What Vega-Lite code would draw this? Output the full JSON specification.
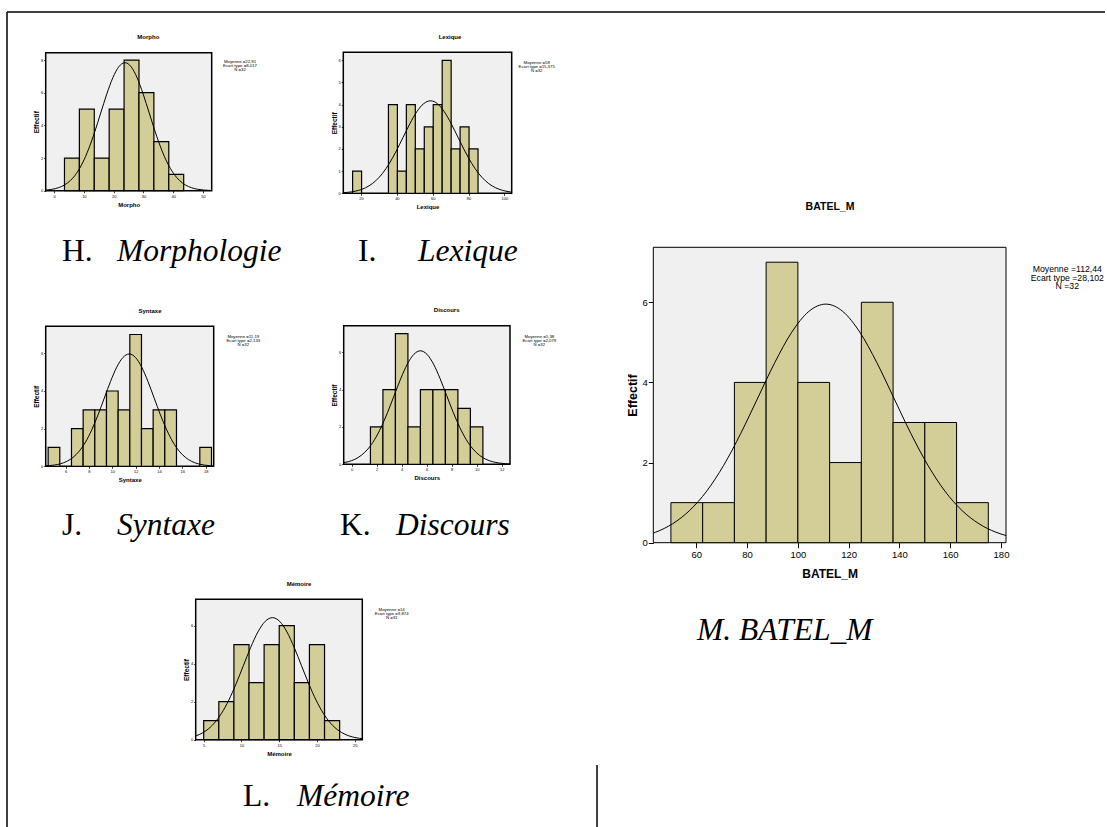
{
"$schema": "https://vega.github.io/schema/vega-lite/v6.json",
"width": 1107, "height": 827, "autosize": "none", "padding": 0,
"background": "white",
"config": {
 "font": "Liberation Sans",
 "view": {"stroke": null},
 "axis": {"grid": false, "domain": false, "tickColor": "black", "tickWidth": 0.8, "labelColor": "black", "titleColor": "black", "labelFont": "Liberation Sans", "titleFont": "Liberation Sans", "titleFontWeight": "bold", "labelFlush": false, "labelOverlap": false},
 "axisX": {"labelFontSize": 4, "titleFontSize": 6, "tickSize": 2, "labelPadding": 1.5, "titlePadding": 3},
 "axisY": {"labelFontSize": 4, "titleFontSize": 6.5, "tickSize": 2, "labelPadding": 1, "titlePadding": 1}
},
"datasets": {
 "morpho_bars": [{"bin_start":3.5,"bin_end":8.5,"count":2},{"bin_start":8.5,"bin_end":13.5,"count":5},{"bin_start":13.5,"bin_end":18.5,"count":2},{"bin_start":18.5,"bin_end":23.5,"count":5},{"bin_start":23.5,"bin_end":28.5,"count":8},{"bin_start":28.5,"bin_end":33.5,"count":6},{"bin_start":33.5,"bin_end":38.5,"count":3},{"bin_start":38.5,"bin_end":43.5,"count":1}],
 "morpho_curve": [{"x":-2.8,"y":0.038},{"x":-0.62,"y":0.087},{"x":1.415,"y":0.179},{"x":3.45,"y":0.344},{"x":5.485,"y":0.624},{"x":7.52,"y":1.061},{"x":9.555,"y":1.696},{"x":11.59,"y":2.545},{"x":13.625,"y":3.589},{"x":15.66,"y":4.755},{"x":17.695,"y":5.918},{"x":19.73,"y":6.919},{"x":21.765,"y":7.599},{"x":23.8,"y":7.84},{"x":25.835,"y":7.599},{"x":27.87,"y":6.919},{"x":29.905,"y":5.918},{"x":31.94,"y":4.755},{"x":33.975,"y":3.589},{"x":36.01,"y":2.545},{"x":38.045,"y":1.696},{"x":40.08,"y":1.061},{"x":42.115,"y":0.624},{"x":44.15,"y":0.344},{"x":46.185,"y":0.179},{"x":48.22,"y":0.087},{"x":50.255,"y":0.04},{"x":52.29,"y":0.017},{"x":52.9,"y":0.013}],
 "lexique_bars": [{"bin_start":15.3,"bin_end":20.3,"count":1},{"bin_start":35.3,"bin_end":40.3,"count":4},{"bin_start":40.3,"bin_end":45.3,"count":1},{"bin_start":45.3,"bin_end":50.3,"count":4},{"bin_start":50.3,"bin_end":55.3,"count":2},{"bin_start":55.3,"bin_end":60.3,"count":3},{"bin_start":60.3,"bin_end":65.3,"count":4},{"bin_start":65.3,"bin_end":70.3,"count":6},{"bin_start":70.3,"bin_end":75.3,"count":2},{"bin_start":75.3,"bin_end":80.3,"count":3},{"bin_start":80.3,"bin_end":85.3,"count":2}],
 "lexique_curve": [{"x":10.1,"y":0.026},{"x":12.9,"y":0.046},{"x":16.725,"y":0.095},{"x":20.55,"y":0.183},{"x":24.375,"y":0.332},{"x":28.2,"y":0.565},{"x":32.025,"y":0.902},{"x":35.85,"y":1.354},{"x":39.675,"y":1.91},{"x":43.5,"y":2.53},{"x":47.325,"y":3.149},{"x":51.15,"y":3.682},{"x":54.975,"y":4.044},{"x":58.8,"y":4.172},{"x":62.625,"y":4.044},{"x":66.45,"y":3.682},{"x":70.275,"y":3.149},{"x":74.1,"y":2.53},{"x":77.925,"y":1.91},{"x":81.75,"y":1.354},{"x":85.575,"y":0.902},{"x":89.4,"y":0.565},{"x":93.225,"y":0.332},{"x":97.05,"y":0.183},{"x":100.875,"y":0.095},{"x":104.1,"y":0.052}],
 "syntaxe_bars": [{"bin_start":4.5,"bin_end":5.5,"count":1},{"bin_start":6.5,"bin_end":7.5,"count":2},{"bin_start":7.5,"bin_end":8.5,"count":3},{"bin_start":8.5,"bin_end":9.5,"count":3},{"bin_start":9.5,"bin_end":10.5,"count":4},{"bin_start":10.5,"bin_end":11.5,"count":3},{"bin_start":11.5,"bin_end":12.5,"count":7},{"bin_start":12.5,"bin_end":13.5,"count":2},{"bin_start":13.5,"bin_end":14.5,"count":3},{"bin_start":14.5,"bin_end":15.5,"count":3},{"bin_start":17.5,"bin_end":18.5,"count":1}],
 "syntaxe_curve": [{"x":4.29,"y":0.022},{"x":4.495,"y":0.03},{"x":5.03,"y":0.066},{"x":5.565,"y":0.136},{"x":6.1,"y":0.262},{"x":6.635,"y":0.475},{"x":7.17,"y":0.807},{"x":7.705,"y":1.29},{"x":8.24,"y":1.937},{"x":8.775,"y":2.731},{"x":9.31,"y":3.619},{"x":9.845,"y":4.503},{"x":10.38,"y":5.265},{"x":10.915,"y":5.782},{"x":11.45,"y":5.966},{"x":11.985,"y":5.782},{"x":12.52,"y":5.265},{"x":13.055,"y":4.503},{"x":13.59,"y":3.619},{"x":14.125,"y":2.731},{"x":14.66,"y":1.937},{"x":15.195,"y":1.29},{"x":15.73,"y":0.807},{"x":16.265,"y":0.475},{"x":16.8,"y":0.262},{"x":17.335,"y":0.136},{"x":17.87,"y":0.066},{"x":18.405,"y":0.03},{"x":18.69,"y":0.02}],
 "discours_bars": [{"bin_start":1.5,"bin_end":2.5,"count":2},{"bin_start":2.5,"bin_end":3.5,"count":4},{"bin_start":3.5,"bin_end":4.5,"count":7},{"bin_start":4.5,"bin_end":5.5,"count":2},{"bin_start":5.5,"bin_end":6.5,"count":4},{"bin_start":6.5,"bin_end":7.5,"count":4},{"bin_start":7.5,"bin_end":8.5,"count":4},{"bin_start":8.5,"bin_end":9.5,"count":3},{"bin_start":9.5,"bin_end":10.5,"count":2}],
 "discours_curve": [{"x":-0.64,"y":0.085},{"x":-0.275,"y":0.139},{"x":0.25,"y":0.267},{"x":0.775,"y":0.484},{"x":1.3,"y":0.823},{"x":1.825,"y":1.315},{"x":2.35,"y":1.974},{"x":2.875,"y":2.783},{"x":3.4,"y":3.687},{"x":3.925,"y":4.589},{"x":4.45,"y":5.365},{"x":4.975,"y":5.892},{"x":5.5,"y":6.079},{"x":6.025,"y":5.892},{"x":6.55,"y":5.365},{"x":7.075,"y":4.589},{"x":7.6,"y":3.687},{"x":8.125,"y":2.783},{"x":8.65,"y":1.974},{"x":9.175,"y":1.315},{"x":9.7,"y":0.823},{"x":10.225,"y":0.484},{"x":10.75,"y":0.267},{"x":11.275,"y":0.139},{"x":11.8,"y":0.068},{"x":12.325,"y":0.031},{"x":12.67,"y":0.018}],
 "memoire_bars": [{"bin_start":5,"bin_end":7,"count":1},{"bin_start":7,"bin_end":9,"count":2},{"bin_start":9,"bin_end":11,"count":5},{"bin_start":11,"bin_end":13,"count":3},{"bin_start":13,"bin_end":15,"count":5},{"bin_start":15,"bin_end":17,"count":6},{"bin_start":17,"bin_end":19,"count":3},{"bin_start":19,"bin_end":21,"count":5},{"bin_start":21,"bin_end":23,"count":1}],
 "memoire_curve": [{"x":3.94,"y":0.197},{"x":4.475,"y":0.282},{"x":5.4375,"y":0.511},{"x":6.4,"y":0.87},{"x":7.3625,"y":1.39},{"x":8.325,"y":2.086},{"x":9.2875,"y":2.942},{"x":10.25,"y":3.897},{"x":11.2125,"y":4.85},{"x":12.175,"y":5.67},{"x":13.1375,"y":6.227},{"x":14.1,"y":6.425},{"x":15.0625,"y":6.227},{"x":16.025,"y":5.67},{"x":16.9875,"y":4.85},{"x":17.95,"y":3.897},{"x":18.9125,"y":2.942},{"x":19.875,"y":2.086},{"x":20.8375,"y":1.39},{"x":21.8,"y":0.87},{"x":22.7625,"y":0.511},{"x":23.725,"y":0.282},{"x":24.6875,"y":0.146},{"x":25.65,"y":0.071},{"x":26.0,"y":0.054}],
 "batel_bars": [{"bin_start":50,"bin_end":62.5,"count":1},{"bin_start":62.5,"bin_end":75,"count":1},{"bin_start":75,"bin_end":87.5,"count":4},{"bin_start":87.5,"bin_end":100,"count":7},{"bin_start":100,"bin_end":112.5,"count":4},{"bin_start":112.5,"bin_end":125,"count":2},{"bin_start":125,"bin_end":137.5,"count":6},{"bin_start":137.5,"bin_end":150,"count":3},{"bin_start":150,"bin_end":162.5,"count":3},{"bin_start":162.5,"bin_end":175,"count":1}],
 "batel_curve": [{"x":43.06,"y":0.239},{"x":44.0,"y":0.262},{"x":50.7,"y":0.474},{"x":57.4,"y":0.806},{"x":64.1,"y":1.288},{"x":70.8,"y":1.933},{"x":77.5,"y":2.726},{"x":84.2,"y":3.611},{"x":90.9,"y":4.494},{"x":97.6,"y":5.254},{"x":104.3,"y":5.771},{"x":111,"y":5.954},{"x":117.7,"y":5.771},{"x":124.4,"y":5.254},{"x":131.1,"y":4.494},{"x":137.8,"y":3.611},{"x":144.5,"y":2.726},{"x":151.2,"y":1.933},{"x":157.9,"y":1.288},{"x":164.6,"y":0.806},{"x":171.3,"y":0.474},{"x":178.0,"y":0.262},{"x":181.97,"y":0.179}]
},
"resolve": {"scale": {"x": "independent", "y": "independent"}, "axis": {"x": "independent", "y": "independent"}},
"layer": [
 {"layer": [
  {"data": {"values": [{}]}, "mark": {"type": "rect", "fill": "#F0F0F0", "stroke": "black", "strokeWidth": 1.5},
   "encoding": {"x": {"datum": -2.8}, "x2": {"datum": 52.9}, "y": {"datum": 0}, "y2": {"datum": 8.45}}},
  {"data": {"name": "morpho_bars"}, "mark": {"type": "rect", "fill": "#D3CE97", "stroke": "black", "strokeWidth": 1.2},
   "encoding": {"x": {"field": "bin_start", "type": "quantitative", "scale": {"domain": [-2.8, 52.9], "range": [45.7, 211.7], "nice": false, "zero": false}, "axis": {"orient": "bottom", "offset": -636.3, "title": "Morpho", "values": [0,10,20,30,40,50], "format": "d"}},
    "x2": {"field": "bin_end"},
    "y": {"field": "count", "type": "quantitative", "scale": {"domain": [0, 8.45], "range": [190.7, 52.7], "nice": false}, "axis": {"orient": "left", "offset": -45.7, "title": "Effectif", "values": [0,2,4,6,8], "format": "d"}},
    "y2": {"datum": 0}}},
  {"data": {"name": "morpho_curve"}, "mark": {"type": "line", "color": "black", "strokeWidth": 1, "interpolate": "monotone"},
   "encoding": {"x": {"field": "x", "type": "quantitative"}, "y": {"field": "y", "type": "quantitative"}}},
  {"data": {"values": [{}]}, "mark": {"type": "text", "text": "Morpho", "fontSize": 6, "fontWeight": "bold", "align": "center", "baseline": "middle", "color": "black"},
   "encoding": {"x": {"datum": 31.63}, "y": {"datum": 9.41}}},
  {"data": {"values": [{}]}, "mark": {"type": "text", "text": ["Moyenne =22,91", "Ecart type =8,017", "N =32"], "fontSize": 4.3, "lineHeight": 4.2, "align": "center", "baseline": "top", "color": "black"},
   "encoding": {"x": {"datum": 62.4}, "y": {"datum": 8.015}}},
  {"data": {"values": [{}]}, "mark": {"type": "text", "text": "H.", "font": "Liberation Serif", "fontSize": 31.5, "align": "left", "baseline": "alphabetic", "color": "black"},
   "encoding": {"x": {"datum": 2.67}, "y": {"datum": -4.305}}},
  {"data": {"values": [{}]}, "mark": {"type": "text", "text": "Morphologie", "font": "Liberation Serif", "fontStyle": "italic", "fontSize": 31.5, "align": "left", "baseline": "alphabetic", "color": "black"},
   "encoding": {"x": {"datum": 21.12}, "y": {"datum": -4.305}}},
  {"data": {"values": [{}]}, "mark": {"type": "rule", "color": "black", "strokeWidth": 1.5},
   "encoding": {"x": {"datum": -15.785}, "x2": {"datum": 352.63}, "y": {"datum": 10.942}}},
  {"data": {"values": [{}]}, "mark": {"type": "rule", "color": "black", "strokeWidth": 1.5},
   "encoding": {"x": {"datum": -15.785}, "y": {"datum": 10.942}, "y2": {"datum": -38.962}}}
 ]},
 {"layer": [
  {"data": {"values": [{}]}, "mark": {"type": "rect", "fill": "#F0F0F0", "stroke": "black", "strokeWidth": 1.5},
   "encoding": {"x": {"datum": 10.1}, "x2": {"datum": 104.1}, "y": {"datum": 0}, "y2": {"datum": 6.36}}},
  {"data": {"name": "lexique_bars"}, "mark": {"type": "rect", "fill": "#D3CE97", "stroke": "black", "strokeWidth": 1.2},
   "encoding": {"x": {"field": "bin_start", "type": "quantitative", "scale": {"domain": [10.1, 104.1], "range": [343.3, 511.7], "nice": false, "zero": false}, "axis": {"orient": "bottom", "offset": -633.7, "title": "Lexique", "values": [20,40,60,80,100], "format": "d"}},
    "x2": {"field": "bin_end"},
    "y": {"field": "count", "type": "quantitative", "scale": {"domain": [0, 6.36], "range": [193.3, 52.3], "nice": false}, "axis": {"orient": "left", "offset": -343.3, "title": "Effectif", "values": [0,1,2,3,4,5,6], "format": "d"}},
    "y2": {"datum": 0}}},
  {"data": {"name": "lexique_curve"}, "mark": {"type": "line", "color": "black", "strokeWidth": 1, "interpolate": "monotone"},
   "encoding": {"x": {"field": "x", "type": "quantitative"}, "y": {"field": "y", "type": "quantitative"}}},
  {"data": {"values": [{}]}, "mark": {"type": "text", "text": "Lexique", "fontSize": 6, "fontWeight": "bold", "align": "center", "baseline": "middle", "color": "black"},
   "encoding": {"x": {"datum": 69.66}, "y": {"datum": 7.05}}},
  {"data": {"values": [{}]}, "mark": {"type": "text", "text": ["Moyenne =58", "Ecart type =15,375", "N =32"], "fontSize": 4.3, "lineHeight": 4.2, "align": "center", "baseline": "top", "color": "black"},
   "encoding": {"x": {"datum": 118.05}, "y": {"datum": 5.967}}},
  {"data": {"values": [{}]}, "mark": {"type": "text", "text": "I.", "font": "Liberation Serif", "fontSize": 31.5, "align": "left", "baseline": "alphabetic", "color": "black"},
   "encoding": {"x": {"datum": 18.31}, "y": {"datum": -3.054}}},
  {"data": {"values": [{}]}, "mark": {"type": "text", "text": "Lexique", "font": "Liberation Serif", "fontStyle": "italic", "fontSize": 31.5, "align": "left", "baseline": "alphabetic", "color": "black"},
   "encoding": {"x": {"datum": 51.8}, "y": {"datum": -3.054}}}
 ]},
 {"layer": [
  {"data": {"values": [{}]}, "mark": {"type": "rect", "fill": "#F0F0F0", "stroke": "black", "strokeWidth": 1.5},
   "encoding": {"x": {"datum": 4.29}, "x2": {"datum": 18.69}, "y": {"datum": 0}, "y2": {"datum": 7.435}}},
  {"data": {"name": "syntaxe_bars"}, "mark": {"type": "rect", "fill": "#D3CE97", "stroke": "black", "strokeWidth": 1.2},
   "encoding": {"x": {"field": "bin_start", "type": "quantitative", "scale": {"domain": [4.29, 18.69], "range": [45.7, 213.7], "nice": false, "zero": false}, "axis": {"orient": "bottom", "offset": -360.7, "title": "Syntaxe", "values": [6,8,10,12,14,16,18], "format": "d"}},
    "x2": {"field": "bin_end"},
    "y": {"field": "count", "type": "quantitative", "scale": {"domain": [0, 7.435], "range": [466.3, 326.3], "nice": false}, "axis": {"orient": "left", "offset": -45.7, "title": "Effectif", "values": [0,2,4,6], "format": "d"}},
    "y2": {"datum": 0}}},
  {"data": {"name": "syntaxe_curve"}, "mark": {"type": "line", "color": "black", "strokeWidth": 1, "interpolate": "monotone"},
   "encoding": {"x": {"field": "x", "type": "quantitative"}, "y": {"field": "y", "type": "quantitative"}}},
  {"data": {"values": [{}]}, "mark": {"type": "text", "text": "Syntaxe", "fontSize": 6, "fontWeight": "bold", "align": "center", "baseline": "middle", "color": "black"},
   "encoding": {"x": {"datum": 13.23}, "y": {"datum": 8.263}}},
  {"data": {"values": [{}]}, "mark": {"type": "text", "text": ["Moyenne =11,19", "Ecart type =2,133", "N =32"], "fontSize": 4.3, "lineHeight": 4.2, "align": "center", "baseline": "top", "color": "black"},
   "encoding": {"x": {"datum": 21.227}, "y": {"datum": 6.973}}},
  {"data": {"values": [{}]}, "mark": {"type": "text", "text": "J.", "font": "Liberation Serif", "fontSize": 31.5, "align": "left", "baseline": "alphabetic", "color": "black"},
   "encoding": {"x": {"datum": 5.687}, "y": {"datum": -3.648}}},
  {"data": {"values": [{}]}, "mark": {"type": "text", "text": "Syntaxe", "font": "Liberation Serif", "fontStyle": "italic", "fontSize": 31.5, "align": "left", "baseline": "alphabetic", "color": "black"},
   "encoding": {"x": {"datum": 10.401}, "y": {"datum": -3.648}}}
 ]},
 {"layer": [
  {"data": {"values": [{}]}, "mark": {"type": "rect", "fill": "#F0F0F0", "stroke": "black", "strokeWidth": 1.5},
   "encoding": {"x": {"datum": -0.64}, "x2": {"datum": 12.67}, "y": {"datum": 0}, "y2": {"datum": 7.424}}},
  {"data": {"name": "discours_bars"}, "mark": {"type": "rect", "fill": "#D3CE97", "stroke": "black", "strokeWidth": 1.2},
   "encoding": {"x": {"field": "bin_start", "type": "quantitative", "scale": {"domain": [-0.64, 12.67], "range": [343.7, 510], "nice": false, "zero": false}, "axis": {"orient": "bottom", "offset": -362.7, "title": "Discours", "values": [0,2,4,6,8,10,12], "format": "d"}},
    "x2": {"field": "bin_end"},
    "y": {"field": "count", "type": "quantitative", "scale": {"domain": [0, 7.424], "range": [464.3, 325.7], "nice": false}, "axis": {"orient": "left", "offset": -343.7, "title": "Effectif", "values": [0,2,4,6], "format": "d"}},
    "y2": {"datum": 0}}},
  {"data": {"name": "discours_curve"}, "mark": {"type": "line", "color": "black", "strokeWidth": 1, "interpolate": "monotone"},
   "encoding": {"x": {"field": "x", "type": "quantitative"}, "y": {"field": "y", "type": "quantitative"}}},
  {"data": {"values": [{}]}, "mark": {"type": "text", "text": "Discours", "fontSize": 6, "fontWeight": "bold", "align": "center", "baseline": "middle", "color": "black"},
   "encoding": {"x": {"datum": 7.604}, "y": {"datum": 8.249}}},
  {"data": {"values": [{}]}, "mark": {"type": "text", "text": ["Moyenne =5,38", "Ecart type =2,079", "N =32"], "fontSize": 4.3, "lineHeight": 4.2, "align": "center", "baseline": "top", "color": "black"},
   "encoding": {"x": {"datum": 15.016}, "y": {"datum": 6.926}}},
  {"data": {"values": [{}]}, "mark": {"type": "text", "text": "K.", "font": "Liberation Serif", "fontSize": 31.5, "align": "left", "baseline": "alphabetic", "color": "black"},
   "encoding": {"x": {"datum": -0.936}, "y": {"datum": -3.787}}},
  {"data": {"values": [{}]}, "mark": {"type": "text", "text": "Discours", "font": "Liberation Serif", "fontStyle": "italic", "fontSize": 31.5, "align": "left", "baseline": "alphabetic", "color": "black"},
   "encoding": {"x": {"datum": 3.546}, "y": {"datum": -3.787}}}
 ]},
 {"layer": [
  {"data": {"values": [{}]}, "mark": {"type": "rect", "fill": "#F0F0F0", "stroke": "black", "strokeWidth": 1.5},
   "encoding": {"x": {"datum": 3.94}, "x2": {"datum": 26.0}, "y": {"datum": 0}, "y2": {"datum": 7.39}}},
  {"data": {"name": "memoire_bars"}, "mark": {"type": "rect", "fill": "#D3CE97", "stroke": "black", "strokeWidth": 1.2},
   "encoding": {"x": {"field": "bin_start", "type": "quantitative", "scale": {"domain": [3.94, 26.0], "range": [195.7, 362.3], "nice": false, "zero": false}, "axis": {"orient": "bottom", "offset": -87.3, "title": "Mémoire", "values": [5,10,15,20,25], "format": "d"}},
    "x2": {"field": "bin_end"},
    "y": {"field": "count", "type": "quantitative", "scale": {"domain": [0, 7.39], "range": [739.7, 599.3], "nice": false}, "axis": {"orient": "left", "offset": -195.7, "title": "Effectif", "values": [0,2,4,6], "format": "d"}},
    "y2": {"datum": 0}}},
  {"data": {"name": "memoire_curve"}, "mark": {"type": "line", "color": "black", "strokeWidth": 1, "interpolate": "monotone"},
   "encoding": {"x": {"field": "x", "type": "quantitative"}, "y": {"field": "y", "type": "quantitative"}}},
  {"data": {"values": [{}]}, "mark": {"type": "text", "text": "Mémoire", "fontSize": 6, "fontWeight": "bold", "align": "center", "baseline": "middle", "color": "black"},
   "encoding": {"x": {"datum": 17.62}, "y": {"datum": 8.21}}},
  {"data": {"values": [{}]}, "mark": {"type": "text", "text": ["Moyenne =14", "Ecart type =3,874", "N =31"], "fontSize": 4.3, "lineHeight": 4.2, "align": "center", "baseline": "top", "color": "black"},
   "encoding": {"x": {"datum": 29.89}, "y": {"datum": 6.93}}},
  {"data": {"values": [{}]}, "mark": {"type": "text", "text": "L.", "font": "Liberation Serif", "fontSize": 31.5, "align": "left", "baseline": "alphabetic", "color": "black"},
   "encoding": {"x": {"datum": 10.2}, "y": {"datum": -3.49}}},
  {"data": {"values": [{}]}, "mark": {"type": "text", "text": "Mémoire", "font": "Liberation Serif", "fontStyle": "italic", "fontSize": 31.5, "align": "left", "baseline": "alphabetic", "color": "black"},
   "encoding": {"x": {"datum": 17.35}, "y": {"datum": -3.49}}},
  {"data": {"values": [{}]}, "mark": {"type": "rule", "color": "black", "strokeWidth": 1.5},
   "encoding": {"x": {"datum": 57.08}, "y": {"datum": -1.33}, "y2": {"datum": -4.7}}}
 ]},
 {"layer": [
  {"data": {"values": [{}]}, "mark": {"type": "rect", "fill": "#F0F0F0", "stroke": "black", "strokeWidth": 1},
   "encoding": {"x": {"datum": 43.06}, "x2": {"datum": 181.97}, "y": {"datum": 0}, "y2": {"datum": 7.372}}},
  {"data": {"name": "batel_bars"}, "mark": {"type": "rect", "fill": "#D3CE97", "stroke": "black", "strokeWidth": 1},
   "encoding": {"x": {"field": "bin_start", "type": "quantitative", "scale": {"domain": [43.06, 181.97], "range": [653.3, 1006], "nice": false, "zero": false}, "axis": {"orient": "bottom", "offset": -284.3, "title": "BATEL_M", "values": [60,80,100,120,140,160,180], "format": "d", "labelFontSize": 9.5, "titleFontSize": 12, "tickSize": 5, "tickWidth": 1, "labelPadding": 2, "titlePadding": 9}},
    "x2": {"field": "bin_end"},
    "y": {"field": "count", "type": "quantitative", "scale": {"domain": [0, 7.372], "range": [542.7, 247.3], "nice": false}, "axis": {"orient": "left", "offset": -653.3, "title": "Effectif", "values": [0,2,4,6], "format": "d", "labelFontSize": 9.5, "titleFontSize": 12.5, "tickSize": 5, "tickWidth": 1, "labelPadding": 1, "titlePadding": 3}},
    "y2": {"datum": 0}}},
  {"data": {"name": "batel_curve"}, "mark": {"type": "line", "color": "black", "strokeWidth": 1, "interpolate": "monotone"},
   "encoding": {"x": {"field": "x", "type": "quantitative"}, "y": {"field": "y", "type": "quantitative"}}},
  {"data": {"values": [{}]}, "mark": {"type": "text", "text": "BATEL_M", "fontSize": 10.5, "fontWeight": "bold", "align": "center", "baseline": "middle", "color": "black"},
   "encoding": {"x": {"datum": 112.65}, "y": {"datum": 8.378}}},
  {"data": {"values": [{}]}, "mark": {"type": "text", "text": ["Moyenne =112,44", "Ecart type =28,102", "N =32"], "fontSize": 8.7, "lineHeight": 8.7, "align": "center", "baseline": "top", "color": "black"},
   "encoding": {"x": {"datum": 206.12}, "y": {"datum": 6.93}}},
  {"data": {"values": [{}]}, "mark": {"type": "text", "text": "M. BATEL_M", "font": "Liberation Serif", "fontStyle": "italic", "fontSize": 31.5, "align": "left", "baseline": "alphabetic", "color": "black"},
   "encoding": {"x": {"datum": 60.27}, "y": {"datum": -2.428}}}
 ]}
]
}
